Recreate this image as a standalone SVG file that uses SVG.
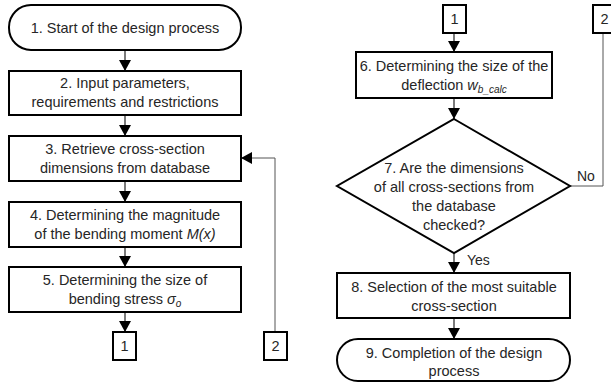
<svg xmlns="http://www.w3.org/2000/svg" width="611" height="383" viewBox="0 0 611 383">
<style>
.b{fill:#fff;stroke:#000;stroke-width:2}
.t{font-family:"Liberation Sans",Arial,sans-serif;font-size:14.5px;fill:#262626;text-anchor:middle}
.l{font-family:"Liberation Sans",Arial,sans-serif;font-size:14px;fill:#262626}
.c{fill:none;stroke:#333;stroke-width:1.3}
.f{fill:none;stroke:#555;stroke-width:1}
.i{font-style:italic}
</style>
<defs>
<marker id="ah" markerUnits="userSpaceOnUse" markerWidth="12" markerHeight="12" viewBox="0 0 12 12" refX="11" refY="6" orient="auto">
<path d="M0,0 L11,6 L0,12 Z" fill="#000"/>
</marker>
</defs>
<g id="connectors">
<line class="c" x1="125" y1="50" x2="125" y2="71" marker-end="url(#ah)"/>
<line class="c" x1="125" y1="115" x2="125" y2="136" marker-end="url(#ah)"/>
<line class="c" x1="125" y1="181" x2="125" y2="202" marker-end="url(#ah)"/>
<line class="c" x1="125" y1="247" x2="125" y2="267" marker-end="url(#ah)"/>
<line class="c" x1="125" y1="312" x2="125" y2="332" marker-end="url(#ah)"/>
<polyline class="f" points="275,332 275,158 241,158" marker-end="url(#ah)"/>
<line class="c" x1="454" y1="33" x2="454" y2="52" marker-end="url(#ah)"/>
<line class="c" x1="454" y1="98" x2="454" y2="119" marker-end="url(#ah)"/>
<line class="c" x1="454" y1="253" x2="454" y2="273" marker-end="url(#ah)"/>
<line class="c" x1="454" y1="318" x2="454" y2="339" marker-end="url(#ah)"/>
<polyline class="f" points="570,186 603,186 603,33"/>
<text class="l" x="577" y="181">No</text>
<text class="l" x="467" y="265">Yes</text>
</g>
<g id="n1"><rect class="b" x="9" y="5" width="232" height="45" rx="22" ry="22"/><text class="t" x="125" y="33">1. Start of the design process</text></g>
<g id="n2"><rect class="b" x="9" y="71" width="232" height="44"/><text class="t" x="125" y="88">2. Input parameters,</text><text class="t" x="125" y="107">requirements and restrictions</text></g>
<g id="n3"><rect class="b" x="9" y="136" width="232" height="45"/><text class="t" x="125" y="154">3. Retrieve cross-section</text><text class="t" x="125" y="173">dimensions from database</text></g>
<g id="n4"><rect class="b" x="9" y="202" width="232" height="45"/><text class="t" x="125" y="220">4. Determining the magnitude</text><text class="t" x="125" y="239">of the bending moment <tspan class="i">M(x)</tspan></text></g>
<g id="n5"><rect class="b" x="9" y="267" width="232" height="45"/><text class="t" x="125" y="285">5. Determining the size of</text><text class="t" x="125" y="304">bending stress <tspan class="i">σ</tspan><tspan class="i" font-size="10" dy="3">o</tspan></text></g>
<g id="c1a"><rect class="b" x="113" y="332" width="23" height="28"/><text class="t" x="124.5" y="351">1</text></g>
<g id="c2a"><rect class="b" x="264" y="332" width="23" height="28"/><text class="t" x="275.5" y="351">2</text></g>
<g id="c1b"><rect class="b" x="443" y="5" width="23" height="28"/><text class="t" x="454.5" y="24">1</text></g>
<g id="c2b"><rect class="b" x="593" y="5" width="23" height="28"/><text class="t" x="604.5" y="24">2</text></g>
<g id="n6"><rect class="b" x="356" y="52" width="196" height="46"/><text class="t" x="454" y="71">6. Determining the size of the</text><text class="t" x="454" y="90">deflection <tspan class="i">w</tspan><tspan class="i" font-size="10" dy="3">b_calc</tspan></text></g>
<g id="n7"><polygon class="b" points="454,119 570,186 454,253 337,186"/><text class="t" x="454" y="173">7. Are the dimensions</text><text class="t" x="454" y="192">of all cross-sections from</text><text class="t" x="454" y="211">the database</text><text class="t" x="454" y="230">checked?</text></g>
<g id="n8"><rect class="b" x="337" y="273" width="233" height="45"/><text class="t" x="454" y="292">8. Selection of the most suitable</text><text class="t" x="454" y="311">cross-section</text></g>
<g id="n9"><rect class="b" x="337" y="339" width="233" height="42" rx="21" ry="21"/><text class="t" x="454" y="358">9. Completion of the design</text><text class="t" x="454" y="376">process</text></g>
</svg>
